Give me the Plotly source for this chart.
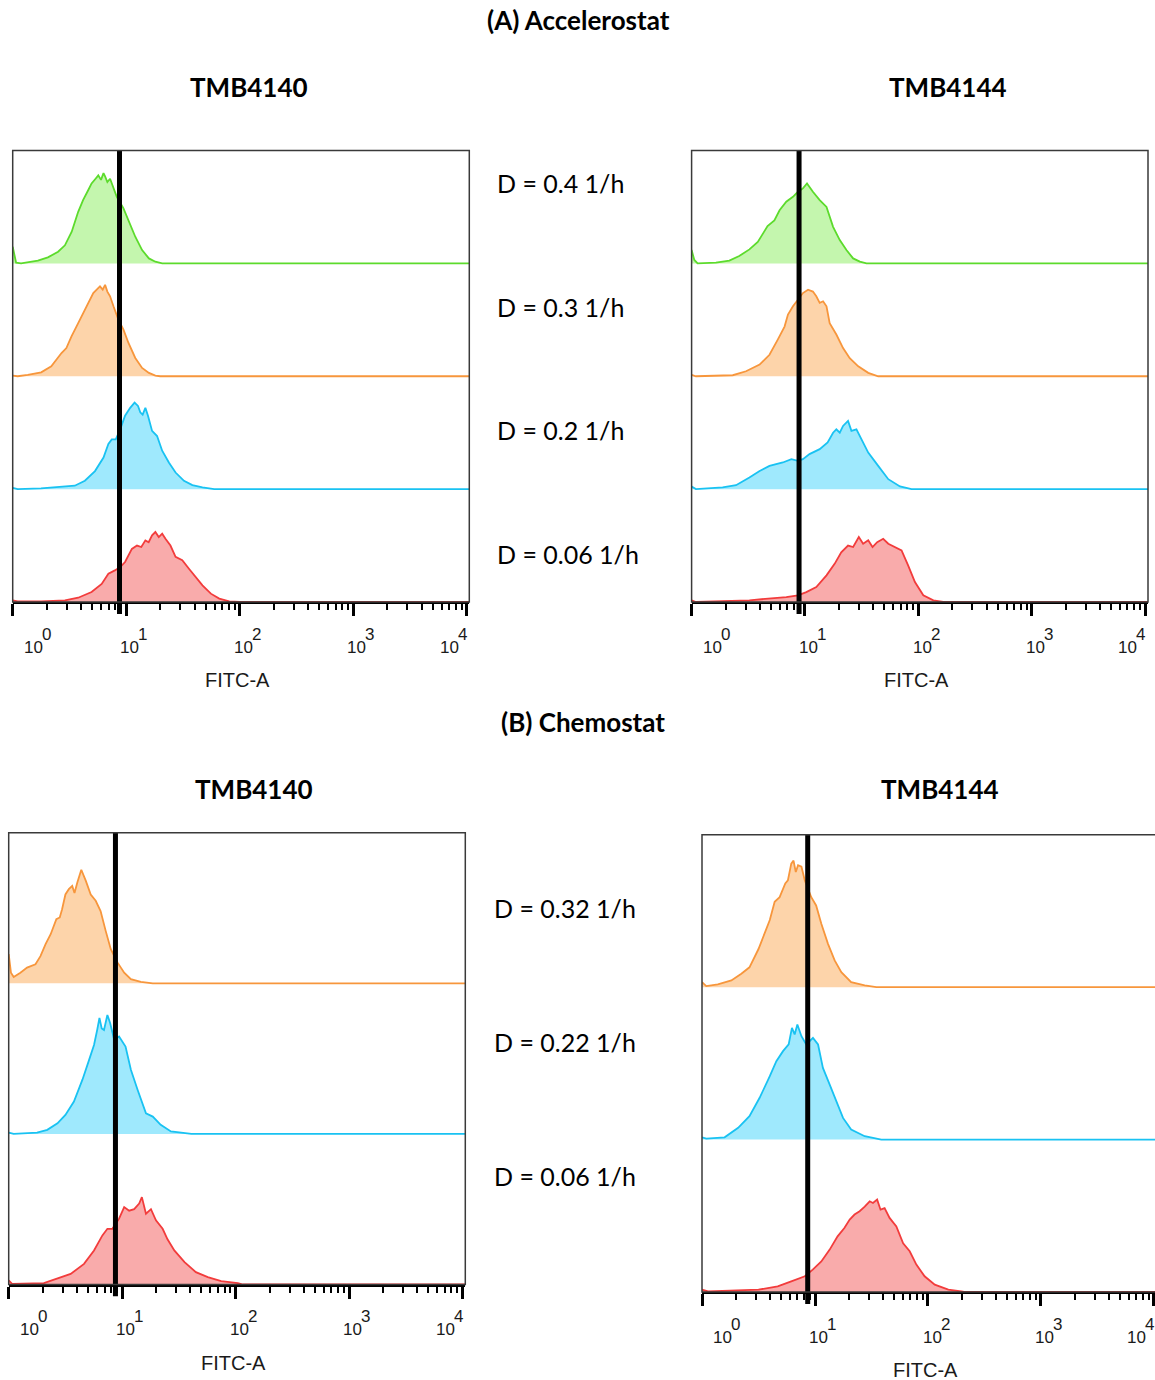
import numpy as np
import plotly.graph_objects as go

W, H = 1155, 1380

# ---------------- data ----------------
# x: log10(FITC-A) ; y: events as % of a lane's height
# (A) Accelerostat, TMB4140
A40_D040_logx = [0, 0.03, 0.074, 0.133, 0.222, 0.31, 0.4, 0.46, 0.52, 0.577, 0.62, 0.666, 0.695, 0.73, 0.754, 0.778, 0.8, 0.814, 0.834, 0.858, 0.888, 0.917, 0.976, 1.02, 1.08, 1.14, 1.2, 1.257, 1.317, 4.05]
A40_D040_cnt = [14.7, 0.6, 0, 1, 2.4, 5.3, 10.3, 16, 28, 45.7, 56, 65, 70.8, 75, 78, 74, 80, 77, 72, 75, 66, 59, 48.7, 38, 23.6, 11.8, 4.4, 1.5, 0, 0]
A40_D030_logx = [0, 0.044, 0.133, 0.251, 0.34, 0.43, 0.473, 0.518, 0.577, 0.636, 0.68, 0.71, 0.74, 0.769, 0.793, 0.814, 0.834, 0.858, 0.888, 0.932, 0.976, 1.02, 1.08, 1.14, 1.2, 1.257, 1.3, 4.05]
A40_D030_cnt = [0.6, 0, 1.2, 3.5, 8.8, 20.6, 25, 35.4, 47, 59, 69, 73.7, 76.7, 79.6, 76.7, 81, 75, 70.8, 62, 50, 41.3, 29.5, 16.2, 7.4, 3, 0.6, 0, 0]
A40_D020_logx = [0, 0.044, 0.25, 0.4, 0.547, 0.636, 0.725, 0.8, 0.843, 0.873, 0.908, 0.947, 0.99, 1.035, 1.074, 1.104, 1.124, 1.145, 1.169, 1.192, 1.228, 1.272, 1.317, 1.376, 1.435, 1.509, 1.583, 1.672, 1.775, 4.05]
A40_D020_cnt = [1.2, 0, 0.6, 1.5, 3, 7.4, 16, 28, 40, 44, 44, 53, 65, 72, 76.7, 73.7, 68, 66, 72, 65, 51.6, 47, 34, 23.6, 14.7, 7.4, 3.5, 1.5, 0, 0]
A40_D006_logx = [0, 0.044, 0.25, 0.46, 0.577, 0.695, 0.784, 0.843, 0.9, 0.947, 0.99, 1.05, 1.095, 1.133, 1.169, 1.198, 1.228, 1.257, 1.287, 1.317, 1.346, 1.39, 1.435, 1.494, 1.553, 1.612, 1.672, 1.746, 1.82, 1.908, 1.997, 4.05]
A40_D006_cnt = [1.5, 0.6, 0.6, 1.5, 3.8, 8.8, 16, 25, 28, 31, 35.4, 47, 50, 48.7, 54.6, 53, 59, 62, 57.5, 60.5, 56, 50, 40, 37, 29.5, 22, 14.7, 7.4, 3, 0.6, 0, 0]
# (A) Accelerostat, TMB4144
A44_D040_logx = [0, 0.024, 0.053, 0.215, 0.333, 0.42, 0.51, 0.584, 0.67, 0.73, 0.776, 0.835, 0.894, 0.938, 0.982, 1.018, 1.07, 1.13, 1.19, 1.248, 1.307, 1.366, 1.425, 1.484, 1.543, 4.05]
A44_D040_cnt = [11.8, 3, 0, 0.6, 2.4, 6.5, 12.4, 19, 33, 38, 47, 54.6, 59, 63.4, 66.4, 70.8, 63.4, 56, 50, 32.4, 20.6, 11.8, 4.4, 1.5, 0, 0]
A44_D030_logx = [0, 0.038, 0.363, 0.48, 0.6, 0.687, 0.76, 0.82, 0.85, 0.894, 0.938, 0.982, 1.027, 1.07, 1.1, 1.13, 1.16, 1.19, 1.218, 1.277, 1.336, 1.395, 1.47, 1.558, 1.646, 4.05]
A44_D030_cnt = [1.2, 0, 0.9, 4.4, 10.3, 19, 32.4, 44, 54.6, 62, 67.8, 73.7, 76.7, 75, 70.8, 65, 66.4, 62, 47, 37, 25, 16, 8.8, 3, 0, 0]
A44_D020_logx = [0, 0.038, 0.274, 0.392, 0.51, 0.6, 0.687, 0.805, 0.88, 0.938, 0.982, 1.04, 1.13, 1.2, 1.248, 1.277, 1.307, 1.336, 1.38, 1.41, 1.454, 1.5, 1.558, 1.646, 1.735, 1.838, 1.94, 4.05]
A44_D020_cnt = [2.4, 0, 1.5, 3.5, 10.3, 16, 20.6, 23.6, 26.5, 25, 26.5, 31, 35.4, 41.3, 50, 53, 50, 56, 60.5, 51.6, 53, 44, 32.4, 20.6, 8.8, 2.4, 0, 0]
A44_D006_logx = [0, 0.038, 0.51, 0.687, 0.835, 0.938, 1.012, 1.1, 1.19, 1.263, 1.32, 1.38, 1.425, 1.475, 1.513, 1.558, 1.596, 1.637, 1.69, 1.735, 1.794, 1.852, 1.91, 1.97, 2.044, 2.133, 2.22, 4.05]
A44_D006_cnt = [1.5, 0, 1.5, 3, 4.4, 5.9, 8.8, 13.3, 23.6, 34, 44, 50, 48.7, 57.5, 51.6, 54.6, 48.7, 53, 56, 51.6, 48.7, 45.7, 32.4, 17.7, 5.9, 1.5, 0, 0]
# (B) Chemostat, TMB4140
B40_D032_logx = [0, 0.02, 0.044, 0.103, 0.162, 0.236, 0.28, 0.325, 0.37, 0.42, 0.45, 0.47, 0.5, 0.53, 0.56, 0.58, 0.605, 0.64, 0.68, 0.723, 0.767, 0.81, 0.855, 0.9, 0.96, 1.018, 1.077, 1.165, 1.27, 4.05]
B40_D032_cnt = [19.3, 7, 4.2, 7, 10.4, 12.6, 18, 26, 32.6, 42.6, 43.7, 49, 59, 62.5, 64.7, 60, 67, 75.4, 68, 59, 54.8, 48, 34.8, 22.6, 13.7, 7, 2.7, 0.9, 0, 0]
B40_D022_logx = [0, 0.044, 0.25, 0.34, 0.43, 0.5, 0.575, 0.65, 0.708, 0.752, 0.78, 0.8, 0.82, 0.84, 0.87, 0.894, 0.93, 0.973, 1.03, 1.077, 1.136, 1.21, 1.27, 1.34, 1.43, 1.578, 1.61, 4.05]
B40_D022_cnt = [0.9, 0, 0.9, 2.7, 7, 12.6, 21.5, 36, 49, 59, 69, 77, 70, 69, 79, 73.6, 62.5, 64.7, 58, 42.6, 29.3, 13.7, 11.5, 6, 1.6, 0.4, 0, 0]
B40_D006_logx = [0, 0.03, 0.31, 0.43, 0.546, 0.664, 0.752, 0.826, 0.87, 0.914, 0.973, 1.018, 1.062, 1.106, 1.15, 1.174, 1.21, 1.254, 1.298, 1.357, 1.4, 1.46, 1.55, 1.65, 1.755, 1.873, 2.02, 2.065, 4.05]
B40_D006_cnt = [2.7, 0.4, 0.9, 3.8, 7, 13.7, 22.6, 32.6, 37, 37, 43.7, 51.4, 49, 50, 53.7, 58, 47, 50, 42.6, 37, 30, 22.6, 14.9, 8.2, 4.9, 2.2, 0.9, 0, 0]
# (B) Chemostat, TMB4144
B44_D032_logx = [0, 0.038, 0.14, 0.26, 0.348, 0.42, 0.5, 0.54, 0.6, 0.643, 0.687, 0.737, 0.76, 0.79, 0.81, 0.83, 0.85, 0.88, 0.91, 0.967, 1.01, 1.056, 1.115, 1.174, 1.233, 1.32, 1.44, 1.543, 4.05]
B44_D032_cnt = [3.3, 0.7, 1.8, 4.4, 8.8, 13, 25, 33, 44, 56, 59, 68, 70, 81, 83, 75.5, 80, 79, 70, 59, 53.6, 41.6, 28.4, 17.5, 9.8, 3.3, 1.1, 0, 0]
B44_D022_logx = [0, 0.038, 0.2, 0.32, 0.42, 0.51, 0.6, 0.658, 0.717, 0.767, 0.796, 0.82, 0.844, 0.88, 0.923, 0.982, 1.027, 1.07, 1.13, 1.19, 1.248, 1.32, 1.44, 1.587, 4.05]
B44_D022_cnt = [1.5, 0.6, 1.5, 7.7, 15.3, 27.4, 41.6, 51.4, 58, 62.4, 73.3, 69, 75.5, 67.8, 62.4, 66.7, 62.4, 47, 36, 25, 14.2, 6.6, 2.2, 0, 0]
B44_D006_logx = [0, 0.053, 0.5, 0.67, 0.79, 0.91, 0.98, 1.056, 1.13, 1.2, 1.26, 1.307, 1.35, 1.395, 1.44, 1.484, 1.513, 1.55, 1.58, 1.616, 1.66, 1.72, 1.78, 1.838, 1.897, 1.97, 2.06, 2.18, 2.295, 2.32, 4.05]
B44_D006_cnt = [1.5, 0.4, 1.5, 3.7, 7, 10.3, 14.7, 20, 27.8, 36.5, 42, 47.5, 50.8, 53, 56, 59.5, 58.4, 60.6, 54, 55, 48.6, 43, 32, 26.7, 18, 10.3, 4.8, 1.5, 0.4, 0, 0]

# gate (thick black marker) positions, FITC-A
GATE = [8.73, 8.87, 8.73, 8.62]

A_DILUTIONS = ["D = 0.4 1/h", "D = 0.3 1/h", "D = 0.2 1/h", "D = 0.06 1/h"]
B_DILUTIONS = ["D = 0.32 1/h", "D = 0.22 1/h", "D = 0.06 1/h"]

TICK_VALS = [1, 10, 100, 1000, 10000]
TICK_BASE = "10"
TICK_EXPS = ["0", "1", "2", "3", "4"]
MINOR_VALS = [m * d for d in (1, 10, 100, 1000) for m in range(2, 10)]
LABEL_LOGPOS = [0.08, 0.93, 1.935, 2.928, 3.745]

COL = {
    "green": ("#5cdb2c", "#c4f6ae"),
    "orange": ("#f7963c", "#fdd4aa"),
    "blue": ("#19c2f2", "#9fe9fd"),
    "red": ("#f23c3c", "#f9abab"),
}

# ---------------- layout geometry (pixels) ----------------
PANELS = [
    dict(x0=12.7, x1=469.3, top=150.5, bot=602.0, xmax=4.023, gate=GATE[0],
         hists=[(A40_D040_logx, A40_D040_cnt, "green"), (A40_D030_logx, A40_D030_cnt, "orange"),
                (A40_D020_logx, A40_D020_cnt, "blue"), (A40_D006_logx, A40_D006_cnt, "red")]),
    dict(x0=691.6, x1=1148.0, top=150.5, bot=602.0, xmax=4.026, gate=GATE[1],
         hists=[(A44_D040_logx, A44_D040_cnt, "green"), (A44_D030_logx, A44_D030_cnt, "orange"),
                (A44_D020_logx, A44_D020_cnt, "blue"), (A44_D006_logx, A44_D006_cnt, "red")]),
    dict(x0=8.7, x1=465.3, top=832.7, bot=1284.5, xmax=4.025, gate=GATE[2],
         hists=[(B40_D032_logx, B40_D032_cnt, "orange"), (B40_D022_logx, B40_D022_cnt, "blue"),
                (B40_D006_logx, B40_D006_cnt, "red")]),
    dict(x0=702.0, x1=1155.0, top=834.7, bot=1292.0, xmax=4.009, gate=GATE[3],
         hists=[(B44_D032_logx, B44_D032_cnt, "orange"), (B44_D022_logx, B44_D022_cnt, "blue"),
                (B44_D006_logx, B44_D006_cnt, "red")]),
]


def px(v):
    return v / W


def py(v):
    return 1 - v / H


fig = go.Figure()
layout = {}
shapes = []
annotations = []
AX_FONT = dict(family="Liberation Sans, Arial, sans-serif", size=17, color="#1a1a1a")

for p, P in enumerate(PANELS):
    xid = "x" if p == 0 else f"x{p + 1}"
    yid = "y" if p == 0 else f"y{p + 1}"
    sid = f"y{p + 5}"
    nb = len(P["hists"])
    top_val = nb * 100
    for k, (lx, cnt, cname) in enumerate(P["hists"]):
        off = (nb - 1 - k) * 100
        xs = 10 ** np.array(lx, dtype=float)
        ys = np.array(cnt, dtype=float) + off
        lc, fc = COL[cname]
        fig.add_trace(go.Scatter(x=[xs[0], xs[-1]], y=[off, off], mode="lines",
                                 line=dict(width=0, color=fc), xaxis=xid, yaxis=yid,
                                 showlegend=False, hoverinfo="skip"))
        fig.add_trace(go.Scatter(x=xs, y=ys, mode="lines", fill="tonexty", fillcolor=fc,
                                 line=dict(color=lc, width=1.8), xaxis=xid, yaxis=yid,
                                 showlegend=False, hoverinfo="skip"))
    # gate marker
    fig.add_trace(go.Scatter(x=[P["gate"], P["gate"]], y=[0, top_val], mode="lines",
                             line=dict(color="black", width=5), xaxis=xid, yaxis=yid,
                             showlegend=False, hoverinfo="skip"))
    fig.add_trace(go.Scatter(x=[P["gate"], P["gate"]], y=[0, 1], mode="lines",
                             line=dict(color="black", width=5), xaxis=xid, yaxis=sid,
                             showlegend=False, hoverinfo="skip"))

    xkey = "xaxis" if p == 0 else f"xaxis{p + 1}"
    ykey = "yaxis" if p == 0 else f"yaxis{p + 1}"
    layout[xkey] = dict(
        type="log", range=[0, P["xmax"]], domain=[px(P["x0"]), px(P["x1"])],
        anchor=yid, showgrid=False, zeroline=False, showline=True, linecolor="black",
        linewidth=2, tickmode="array", tickvals=TICK_VALS, ticks="outside", ticklen=12,
        tickwidth=2.5, tickcolor="black", showticklabels=False,
        minor=dict(tickmode="array", tickvals=MINOR_VALS, ticks="outside", ticklen=6,
                   tickwidth=1.5, tickcolor="black", showgrid=False),
    )
    layout[ykey] = dict(range=[0, top_val], domain=[py(P["bot"]), py(P["top"])], anchor=xid,
                        visible=False, fixedrange=True)
    layout[f"yaxis{p + 5}"] = dict(range=[0, 1], domain=[py(P["bot"] + 12), py(P["bot"])],
                                   anchor=xid, visible=False)

    shapes.append(dict(type="rect", xref="paper", yref="paper",
                       x0=px(P["x0"]), x1=px(P["x1"] + (2 if p == 3 else 0)),
                       y0=py(P["bot"]), y1=py(P["top"]),
                       line=dict(color="#3a3a3a", width=1.5), fillcolor="rgba(0,0,0,0)",
                       layer="above"))

    # decade labels: "10" with a raised, full-size exponent (FlowJo style)
    for pos, e in zip(LABEL_LOGPOS, TICK_EXPS):
        annotations.append(dict(text=TICK_BASE, xref=xid, yref="paper", x=pos,
                                y=py(P["bot"] + 45), xanchor="left", yanchor="middle",
                                showarrow=False, font=AX_FONT))
        annotations.append(dict(text=e, xref=xid, yref="paper", x=pos, xshift=18,
                                y=py(P["bot"] + 32), xanchor="left", yanchor="middle",
                                showarrow=False, font=AX_FONT))
    annotations.append(dict(text="FITC-A", xref=xid, yref="paper", x=1.98,
                            y=py(P["bot"] + 78), xanchor="center", yanchor="middle",
                            showarrow=False,
                            font=dict(family="Liberation Sans, Arial, sans-serif", size=20,
                                      color="#1a1a1a")))

TITLE_FONT = dict(family="Lato, Open Sans, sans-serif", size=26, color="black")
LBL_FONT = dict(family="Lato, Open Sans, sans-serif", size=25, color="black")

for txt, x, y in [("<b>(A) Accelerostat</b>", 578, 20), ("<b>TMB4140</b>", 249, 87),
                  ("<b>TMB4144</b>", 948, 87), ("<b>(B) Chemostat</b>", 583, 722),
                  ("<b>TMB4140</b>", 254, 789), ("<b>TMB4144</b>", 940, 789)]:
    annotations.append(dict(text=txt, xref="paper", yref="paper", x=px(x), y=py(y),
                            xanchor="center", yanchor="middle", showarrow=False,
                            font=TITLE_FONT))

for txt, y in zip(A_DILUTIONS, [183, 307, 430, 554]):
    annotations.append(dict(text=txt, xref="paper", yref="paper", x=px(495), y=py(y),
                            xanchor="left", yanchor="middle", showarrow=False, font=LBL_FONT))
for txt, y in zip(B_DILUTIONS, [908, 1042, 1176]):
    annotations.append(dict(text=txt, xref="paper", yref="paper", x=px(492), y=py(y),
                            xanchor="left", yanchor="middle", showarrow=False, font=LBL_FONT))

fig.update_layout(
    width=W, height=H, margin=dict(l=0, r=0, t=0, b=0, pad=0, autoexpand=False),
    paper_bgcolor="white", plot_bgcolor="rgba(0,0,0,0)", showlegend=False,
    shapes=shapes, annotations=annotations, **layout,
)

fig.write_html("out.html")
